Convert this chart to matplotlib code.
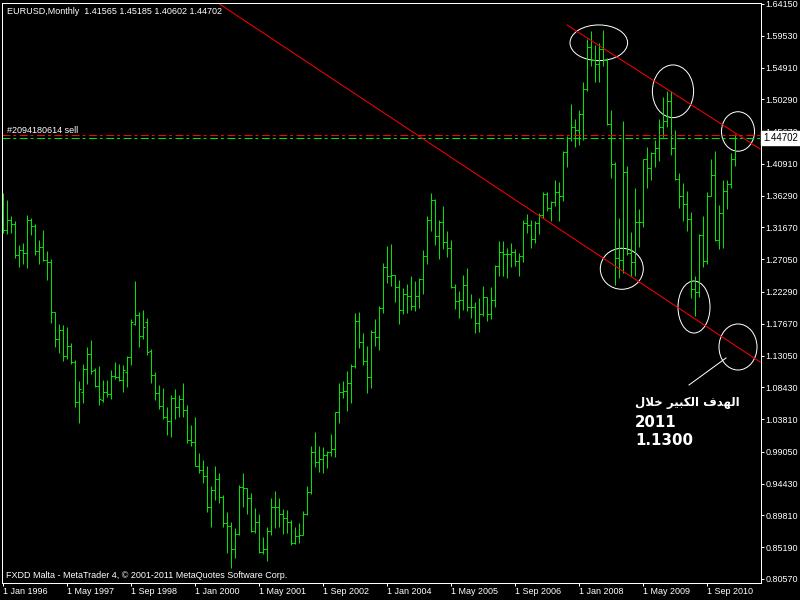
import numpy as np
import pandas as pd
import matplotlib
matplotlib.use("Agg")
import matplotlib.pyplot as plt
from matplotlib.patches import Ellipse

# EURUSD monthly bars, Jan 1996 .. Apr 2011
opens = [1.3144, 1.3130, 1.3275, 1.3217, 1.2766, 1.2839, 1.2795, 1.3275, 1.3188, 1.2825, 1.2883, 1.2694,
         1.2665, 1.1938, 1.1545, 1.1676, 1.1298, 1.1444, 1.1211, 1.0630, 1.0775, 1.1109, 1.1327, 1.1095,
         1.0862, 1.0659, 1.0775, 1.0746, 1.1008, 1.0993, 1.0949, 1.1066, 1.1284, 1.1763, 1.1894, 1.1589,
         1.1792, 1.1371, 1.1022, 1.0760, 1.0571, 1.0412, 1.0353, 1.0688, 1.0557, 1.0673, 1.0513, 1.0080,
         1.0045, 0.9705, 0.9645, 0.9554, 0.9099, 0.9350, 0.9515, 0.9253, 0.8875, 0.8830, 0.8490, 0.8716,
         0.9400, 0.9380, 0.9230, 0.8760, 0.8881, 0.8450, 0.8493, 0.8754, 0.9099, 0.9108, 0.8997, 0.8948,
         0.8890, 0.8575, 0.8682, 0.8696, 0.8997, 0.9326, 0.9903, 0.9762, 0.9801, 0.9859, 0.9907, 0.9942,
         1.0480, 1.0770, 1.0790, 1.0910, 1.1150, 1.1800, 1.1500, 1.1230, 1.0990, 1.1650, 1.1570, 1.1990,
         1.2590, 1.2460, 1.2470, 1.2300, 1.1970, 1.2200, 1.2170, 1.2030, 1.2170, 1.2420, 1.2750, 1.3280,
         1.3560, 1.3040, 1.3250, 1.2960, 1.2870, 1.2300, 1.2098, 1.2112, 1.2326, 1.2006, 1.2015, 1.1773,
         1.1904, 1.2151, 1.1909, 1.2108, 1.2606, 1.2810, 1.2776, 1.2776, 1.2810, 1.2679, 1.2752, 1.3236,
         1.3200, 1.2995, 1.3230, 1.3355, 1.3650, 1.3450, 1.3530, 1.3680, 1.3630, 1.4265, 1.4470, 1.4630,
         1.4590, 1.4817, 1.5185, 1.5785, 1.5603, 1.5550, 1.5756, 1.5602, 1.4672, 1.4089, 1.2729, 1.2700,
         1.3970, 1.2800, 1.2670, 1.3250, 1.3250, 1.4156, 1.4030, 1.4253, 1.4320, 1.4634, 1.4719, 1.5004,
         1.4326, 1.3868, 1.3625, 1.3510, 1.3295, 1.2269, 1.2230, 1.3053, 1.2680, 1.3630, 1.3925, 1.2980,
         1.3380, 1.3690, 1.3805, 1.41565]
highs = [1.3668, 1.3566, 1.3333, 1.3261, 1.2912, 1.2941, 1.3348, 1.3304, 1.3217, 1.2984, 1.3130, 1.2825,
         1.2708, 1.1938, 1.1763, 1.1749, 1.1720, 1.1487, 1.1240, 1.0935, 1.1182, 1.1429, 1.1531, 1.1124,
         1.1153, 1.0949, 1.0949, 1.1095, 1.1211, 1.1182, 1.1167, 1.1298, 1.1836, 1.2388, 1.1938, 1.1967,
         1.1851, 1.1400, 1.1066, 1.0877, 1.0833, 1.0557, 1.0731, 1.0819, 1.0731, 1.0906, 1.0586, 1.0300,
         1.0410, 0.9890, 0.9786, 0.9699, 0.9409, 0.9699, 0.9593, 0.9273, 0.9030, 0.8880, 0.8798, 0.9423,
         0.9593, 0.9384, 0.9302, 0.9093, 0.8997, 0.8672, 0.8817, 0.9238, 0.9336, 0.9230, 0.9070, 0.9060,
         0.8914, 0.8817, 0.8866, 0.9045, 0.9409, 0.9990, 1.0198, 0.9990, 0.9980, 0.9917, 1.0160, 1.0489,
         1.0900, 1.0940, 1.1080, 1.1180, 1.1930, 1.1935, 1.1630, 1.1440, 1.1680, 1.1840, 1.2030, 1.2650,
         1.2900, 1.2930, 1.2480, 1.2410, 1.2280, 1.2340, 1.2461, 1.2388, 1.2436, 1.2839, 1.3333, 1.3672,
         1.3580, 1.3275, 1.3479, 1.3115, 1.2984, 1.2345, 1.2243, 1.2476, 1.2582, 1.2199, 1.2083, 1.2137,
         1.2320, 1.2160, 1.2305, 1.2621, 1.2970, 1.2970, 1.2872, 1.2936, 1.2858, 1.2800, 1.3275, 1.3367,
         1.3280, 1.3260, 1.3375, 1.3680, 1.3680, 1.3545, 1.3850, 1.3830, 1.4280, 1.4500, 1.4966, 1.4750,
         1.4880, 1.5275, 1.5905, 1.6018, 1.5818, 1.5845, 1.6038, 1.5628, 1.4868, 1.4118, 1.3298, 1.4720,
         1.4065, 1.3106, 1.3738, 1.3430, 1.4160, 1.4340, 1.4269, 1.4444, 1.4739, 1.5064, 1.5144, 1.5145,
         1.4578, 1.3953, 1.3817, 1.3693, 1.3386, 1.2468, 1.3072, 1.3333, 1.3679, 1.4157, 1.4281, 1.3500,
         1.3860, 1.3862, 1.4248, 1.45185]
lows = [1.3086, 1.3072, 1.3086, 1.2723, 1.2592, 1.2636, 1.2577, 1.3057, 1.2766, 1.2636, 1.2679, 1.2403,
        1.1778, 1.1429, 1.1342, 1.1226, 1.1255, 1.1182, 1.0557, 1.0324, 1.0615, 1.0891, 1.1037, 1.0848,
        1.0586, 1.0630, 1.0702, 1.0673, 1.0964, 1.0935, 1.0775, 1.0848, 1.1167, 1.1749, 1.1429, 1.1545,
        1.1313, 1.0906, 1.0659, 1.0528, 1.0382, 1.0150, 1.0120, 1.0382, 1.0412, 1.0412, 1.0030, 0.9990,
        0.9700, 0.9600, 0.9457, 0.9035, 0.8817, 0.9205, 0.9166, 0.8817, 0.8430, 0.8212, 0.8357, 0.8696,
        0.9103, 0.8997, 0.8736, 0.8721, 0.8430, 0.8420, 0.8318, 0.8696, 0.8802, 0.8817, 0.8706, 0.8721,
        0.8551, 0.8560, 0.8575, 0.8690, 0.8987, 0.9288, 0.9689, 0.9612, 0.9593, 0.9675, 0.9845, 0.9834,
        1.0320, 1.0690, 1.0500, 1.0620, 1.1120, 1.1410, 1.1170, 1.0765, 1.0835, 1.1450, 1.1390, 1.1930,
        1.2360, 1.2320, 1.2080, 1.1760, 1.1910, 1.1928, 1.1967, 1.1952, 1.2000, 1.2199, 1.2636, 1.3120,
        1.2912, 1.2708, 1.2849, 1.2742, 1.2282, 1.1977, 1.1855, 1.1967, 1.1957, 1.1855, 1.1628, 1.1643,
        1.1880, 1.1811, 1.1840, 1.2015, 1.2461, 1.2461, 1.2436, 1.2596, 1.2606, 1.2461, 1.2669, 1.3090,
        1.2865, 1.2935, 1.3070, 1.3310, 1.3405, 1.3265, 1.3475, 1.3260, 1.3550, 1.4050, 1.4420, 1.4340,
        1.4360, 1.4440, 1.5150, 1.5510, 1.5286, 1.5283, 1.5510, 1.4660, 1.3884, 1.2330, 1.2425, 1.2500,
        1.2762, 1.2455, 1.2456, 1.2887, 1.3180, 1.3744, 1.3852, 1.4046, 1.4135, 1.4482, 1.4626, 1.4218,
        1.3858, 1.3443, 1.3267, 1.3115, 1.2143, 1.1876, 1.2155, 1.2588, 1.2640, 1.3620, 1.2969, 1.2860,
        1.2872, 1.3430, 1.3736, 1.40602]
closes = [1.3130, 1.3275, 1.3217, 1.2766, 1.2839, 1.2795, 1.3275, 1.3188, 1.2825, 1.2883, 1.2694, 1.2665,
          1.1938, 1.1545, 1.1676, 1.1298, 1.1444, 1.1211, 1.0630, 1.0819, 1.1109, 1.1327, 1.1080, 1.0862,
          1.0673, 1.0775, 1.0746, 1.1008, 1.0993, 1.0949, 1.1095, 1.1284, 1.1792, 1.1894, 1.1589, 1.1720,
          1.1356, 1.1022, 1.0760, 1.0571, 1.0412, 1.0353, 1.0688, 1.0557, 1.0673, 1.0513, 1.0080, 1.0045,
          0.9705, 0.9645, 0.9554, 0.9099, 0.9350, 0.9515, 0.9253, 0.8875, 0.8830, 0.8490, 0.8716, 0.9400,
          0.9380, 0.9230, 0.8760, 0.8881, 0.8450, 0.8493, 0.8754, 0.9099, 0.9108, 0.8997, 0.8948, 0.8890,
          0.8575, 0.8682, 0.8696, 0.8997, 0.9326, 0.9903, 0.9762, 0.9801, 0.9859, 0.9907, 0.9942, 1.0480,
          1.0770, 1.0790, 1.0910, 1.1150, 1.1800, 1.1500, 1.1230, 1.0990, 1.1650, 1.1570, 1.1990, 1.2590,
          1.2460, 1.2470, 1.2300, 1.1970, 1.2200, 1.2170, 1.2030, 1.2170, 1.2420, 1.2750, 1.3280, 1.3560,
          1.3040, 1.3250, 1.2960, 1.2870, 1.2300, 1.2098, 1.2112, 1.2326, 1.2006, 1.2015, 1.1773, 1.1904,
          1.2151, 1.1909, 1.2108, 1.2606, 1.2810, 1.2776, 1.2776, 1.2810, 1.2679, 1.2752, 1.3236, 1.3200,
          1.2995, 1.3230, 1.3355, 1.3650, 1.3450, 1.3530, 1.3680, 1.3630, 1.4265, 1.4470, 1.4630, 1.4590,
          1.4817, 1.5185, 1.5785, 1.5603, 1.5550, 1.5756, 1.5602, 1.4672, 1.4089, 1.2729, 1.2700, 1.3970,
          1.2800, 1.2670, 1.3250, 1.3250, 1.4156, 1.4030, 1.4253, 1.4320, 1.4634, 1.4719, 1.5004, 1.4326,
          1.3868, 1.3625, 1.3510, 1.3295, 1.2269, 1.2230, 1.3053, 1.2680, 1.3630, 1.3925, 1.2980, 1.3380,
          1.3690, 1.3805, 1.4158, 1.44702]

price_ticks = ["1.64150", "1.59530", "1.54910", "1.50290", "1.45670", "1.40910", "1.36290",
               "1.31670", "1.27050", "1.22290", "1.17670", "1.13050", "1.08430", "1.03810",
               "0.99050", "0.94430", "0.89810", "0.85190", "0.80570"]
date_step = 16

sell_price = 1.4505
bid_price = 1.44702
header = "EURUSD,Monthly  1.41565 1.45185 1.40602 1.44702"
order_label = "#2094180614 sell"
footer = "FXDD Malta - MetaTrader 4, \u00a9 2001-2011 MetaQuotes Software Corp."

# trend lines: (bar index, price) anchors
lower_trend = ([53.75, 189.3], [1.6429, 1.1210])
upper_trend = ([141.0, 189.3], [1.6110, 1.4307])
# hand drawn circles: bar index, price, width (bars), height (price)
circles = [(148.95, 1.5851, 14.4, 0.0519),
           (167.5, 1.5146, 10.3, 0.0766),
           (183.75, 1.4562, 8.25, 0.0574),
           (154.7, 1.2566, 10.75, 0.0596),
           (172.75, 1.2010, 8.0, 0.0756),
           (183.75, 1.1429, 9.5, 0.0669)]
pointer = ([171.5, 180.75], [1.0877, 1.1269])
# "الهدف الكبير خلال" written with presentation forms in visual order
target_text = "\uFEDD\uFEFC\uFEA7 \uFEAE\uFEF4\uFE92\uFEDC\uFEDF\uFE8D \uFED1\uFEAA\uFEEC\uFEDF\uFE8D"
target_year = "2011"
target_price = "1.1300"

plt.rcParams['font.family'] = ['Liberation Sans', 'DejaVu Sans']
bar_color = "#00e600"
px = 0.72  # one pixel in points at 100 dpi

months = pd.date_range("1996-01-01", periods=len(closes), freq="MS")
x = np.arange(len(closes))

fig = plt.figure(figsize=(8, 6), dpi=100, facecolor="black")
ax = fig.add_axes([2 / 800, 17.5 / 600, 758.5 / 800, 580 / 600])
ax.set_facecolor("black")

ax.vlines(x, lows, highs, colors=bar_color, linewidth=px)
ax.hlines(opens, x - 0.45, x, colors=bar_color, linewidth=px)
ax.hlines(closes, x, x + 0.45, colors=bar_color, linewidth=px)

dash = (0, (7.9, 2.9, 2.9, 3.6))
ax.axhline(sell_price, color="red", linewidth=px, linestyle=dash)
ax.axhline(bid_price, color="#00e600", linewidth=px, linestyle=dash)
ax.text(1.0, sell_price + 0.001, order_label, color="white", fontsize=6.5, va="bottom", ha="left")

ax.plot(*lower_trend, color="red", linewidth=px)
ax.plot(*upper_trend, color="red", linewidth=px)

for cx, cy, w, h in circles:
    ax.add_patch(Ellipse((cx, cy), w, h, fill=False, edgecolor="white", linewidth=px))
ax.plot(*pointer, color="white", linewidth=px)

ax.text(158, 1.0576, target_text, color="white", fontsize=8.5, fontweight="bold",
        family=["DejaVu Sans"], ha="left", va="baseline")
ax.text(158, 1.0271, target_year, color="white", fontsize=10.8, fontweight="bold",
        family=["DejaVu Sans"], ha="left", va="baseline")
ax.text(158, 1.0005, target_price, color="white", fontsize=10.8, fontweight="bold",
        family=["DejaVu Sans"], ha="left", va="baseline")

ax.set_xlim(-0.25, 189.375)
ax.set_ylim(0.80058, 1.64367)

ax.yaxis.tick_right()
ax.set_yticks([float(t) for t in price_ticks])
ax.set_yticklabels(price_ticks)
tick_pos = x[::date_step]
ax.set_xticks(tick_pos)
ax.set_xticklabels([f"{d.day} {d:%b} {d.year}" for d in months[::date_step]])
for lbl in ax.get_xticklabels():
    lbl.set_ha("left")
ax.tick_params(axis="x", colors="white", length=2, width=px, labelsize=6.5, pad=1.5)
ax.tick_params(axis="y", colors="white", length=2.2, width=px, labelsize=6.5, pad=1.5)
for s in ax.spines.values():
    s.set_color("white")
    s.set_linewidth(px)

ax.annotate(f"{bid_price:.5f}", xy=(1, bid_price), xycoords=("axes fraction", "data"),
            xytext=(2, 0), textcoords="offset points", ha="left", va="center",
            fontsize=7, color="black", annotation_clip=False, zorder=10,
            bbox=dict(boxstyle="square,pad=0.2", fc="white", ec="white"))

fig.text(7 / 800, 1 - 11 / 600, header, color="white", fontsize=6.5, ha="left", va="center")
fig.text(6 / 800, 1 - 575 / 600, footer, color="white", fontsize=6.5, ha="left", va="center")

fig.savefig("out.png", dpi=100, facecolor="black")
